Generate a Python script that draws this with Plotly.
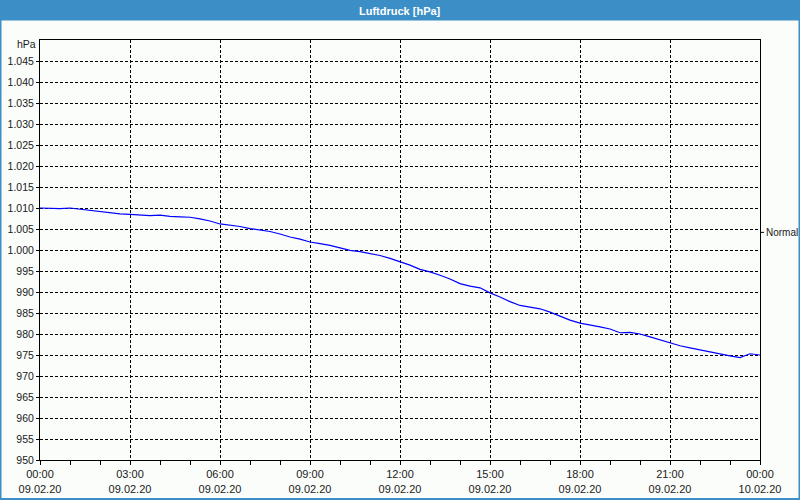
import plotly.graph_objects as go
from datetime import datetime, timedelta

# Data: air pressure every 20 minutes, 09.02.20 00:00 -> 10.02.20 00:00
pressure = [
    1010.0, 1009.95, 1009.85, 1010.0, 1009.7, 1009.4, 1009.2, 1008.8, 1008.6,
    1008.5, 1008.4, 1008.2, 1008.3, 1008.0, 1007.9, 1007.8, 1007.4, 1006.9,
    1006.2, 1005.9, 1005.6, 1005.1, 1004.8, 1004.4, 1003.8, 1003.1, 1002.6,
    1001.9, 1001.5, 1001.1, 1000.5, 999.9, 999.6, 999.2, 998.7, 998.0,
    997.2, 996.4, 995.4, 994.8, 994.0, 993.1, 992.0, 991.4, 991.0,
    989.8, 988.8, 987.7, 986.8, 986.4, 986.0, 985.2, 984.3, 983.3,
    982.6, 982.2, 981.7, 981.2, 980.3, 980.4, 980.0, 979.3, 978.6,
    977.9, 977.2, 976.7, 976.2, 975.7, 975.2, 974.8, 974.4, 975.3,
    975.0,
]
start = datetime(2020, 2, 9, 0, 0)
times = [start + timedelta(minutes=20 * i) for i in range(len(pressure))]

y_ticks = list(range(950, 1050, 5))
y_ticktext = [f"{v:,}".replace(",", ".") for v in y_ticks]
x_ticks = [start + timedelta(hours=3 * i) for i in range(9)]
x_ticktext = [t.strftime("%H:%M") + "<br>" + t.strftime("%d.%m.%y") for t in x_ticks]
normal_value = 1004.2

FONT = "Liberation Sans"
TXT = "#1a1a1a"
BORDER = "#3c8fc6"
BG = "#fbfdfb"

fig = go.Figure()
fig.add_trace(go.Scatter(x=times, y=pressure, mode="lines",
                         line=dict(color="#0000ff", width=1.2),
                         showlegend=False, hoverinfo="skip"))

fig.update_layout(
    width=800, height=500,
    margin=dict(l=40, r=40, t=40, b=40),
    paper_bgcolor=BG, plot_bgcolor=BG,
    font=dict(family=FONT, size=10, color=TXT),
    xaxis=dict(
        type="date",
        range=[start, start + timedelta(days=1)],
        tickvals=x_ticks, ticktext=x_ticktext,
        showgrid=True, gridcolor="black", griddash="3px,2px", gridwidth=1,
        showline=True, linecolor="black", linewidth=1, mirror=True,
        ticks="outside", ticklen=4, tickcolor="black",
        ticklabelstandoff=0, automargin=False,
        minor=dict(dtick=3600000, ticks="outside", ticklen=4, tickcolor="black", showgrid=False),
        zeroline=False,
        tickfont=dict(family=FONT, size=11, color=TXT),
    ),
    yaxis=dict(
        range=[950, 1050],
        tickvals=y_ticks, ticktext=y_ticktext,
        showgrid=True, gridcolor="black", griddash="3px,2px", gridwidth=1,
        showline=True, linecolor="black", linewidth=1, mirror=True,
        ticks="outside", ticklen=3, tickcolor="black",
        zeroline=False, automargin=False,
        tickfont=dict(family=FONT, size=10.5, color=TXT),
    ),
)

# title bar and outer frame (paper coords: plot area 40..760 x, 40..460 y)
def px_x(p):
    return (p - 40) / 720.0

def px_y(p):
    return (460 - p) / 420.0

fig.add_shape(type="rect", xref="paper", yref="paper",
              x0=px_x(0), x1=px_x(800), y0=px_y(20.5), y1=px_y(0),
              fillcolor=BORDER, line=dict(width=0), layer="below")
fig.add_shape(type="rect", xref="paper", yref="paper",
              x0=px_x(0.5), x1=px_x(799.5), y0=px_y(499), y1=px_y(0.5),
              line=dict(color=BORDER, width=2), fillcolor="rgba(0,0,0,0)")
fig.add_annotation(text="<b>Luftdruck [hPa]</b>", xref="paper", yref="paper",
                   x=0.5, y=px_y(10.5), showarrow=False,
                   font=dict(family=FONT, size=11, color="white"),
                   xanchor="center", yanchor="middle")
fig.add_annotation(text="hPa", xref="paper", yref="paper",
                   x=px_x(38), y=px_y(44), showarrow=False,
                   xanchor="right", yanchor="middle",
                   font=dict(family=FONT, size=10.5, color=TXT))
# Normal marker on right axis
fig.add_shape(type="line", xref="paper", yref="y",
              x0=1.0, x1=px_x(764), y0=normal_value, y1=normal_value,
              line=dict(color="black", width=1))
fig.add_annotation(text="Normal", xref="paper", yref="y",
                   x=px_x(764), y=normal_value, showarrow=False,
                   xanchor="left", yanchor="middle",
                   font=dict(family=FONT, size=10, color=TXT))

fig.write_html("out.html")
